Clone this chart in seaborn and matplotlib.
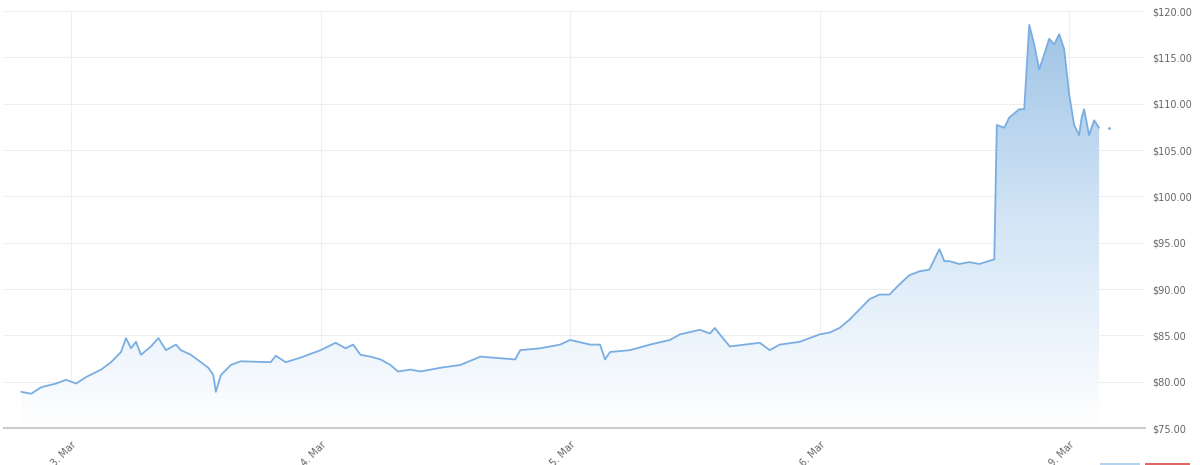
import numpy as np
import seaborn as sns
import matplotlib.pyplot as plt
from matplotlib.patches import Polygon, Rectangle

# trading-day index (0 = 3 Mar, weekend skipped) and price
t = [-0.20, -0.16, -0.12, -0.06, -0.02, 0.02, 0.06, 0.12, 0.16, 0.20, 0.22, 0.24, 0.26, 0.28,
     0.32, 0.35, 0.38, 0.42, 0.44, 0.48, 0.52, 0.55, 0.57, 0.58, 0.60, 0.64, 0.68, 0.80, 0.82,
     0.86, 0.92, 1.00, 1.06, 1.10, 1.13, 1.16, 1.20, 1.24, 1.28, 1.31, 1.36, 1.40, 1.48, 1.56,
     1.64, 1.78, 1.80, 1.88, 1.96, 2.00, 2.08, 2.12, 2.14, 2.16, 2.24, 2.32, 2.40, 2.44, 2.52,
     2.56, 2.58, 2.60, 2.64, 2.76, 2.80, 2.84, 2.92, 3.00, 3.04, 3.08, 3.12, 3.16, 3.20, 3.24,
     3.28, 3.32, 3.36, 3.40, 3.44, 3.48, 3.50, 3.52, 3.56, 3.60, 3.64, 3.70, 3.71, 3.74, 3.76,
     3.80, 3.82, 3.84, 3.86, 3.88, 3.90, 3.92, 3.94, 3.96, 3.98, 4.00, 4.02, 4.04, 4.05, 4.06,
     4.08, 4.10, 4.12]
price = [78.9, 78.7, 79.4, 79.8, 80.2, 79.8, 80.5, 81.3, 82.1, 83.2, 84.7, 83.6, 84.3, 82.9,
         83.8, 84.7, 83.4, 84.0, 83.4, 82.9, 82.1, 81.5, 80.7, 78.9, 80.7, 81.8, 82.2, 82.1, 82.8,
         82.1, 82.6, 83.4, 84.2, 83.6, 84.0, 82.9, 82.7, 82.4, 81.8, 81.1, 81.3, 81.1, 81.5, 81.8,
         82.7, 82.4, 83.4, 83.6, 84.0, 84.5, 84.0, 84.0, 82.4, 83.2, 83.4, 84.0, 84.5, 85.1, 85.6,
         85.2, 85.8, 85.1, 83.8, 84.2, 83.4, 84.0, 84.3, 85.1, 85.3, 85.8, 86.7, 87.8, 88.9, 89.4,
         89.4, 90.5, 91.5, 91.9, 92.1, 94.3, 93.0, 93.0, 92.7, 92.9, 92.7, 93.2, 107.7, 107.4, 108.5,
         109.4, 109.4, 118.5, 116.4, 113.7, 115.3, 117.0, 116.4, 117.5, 115.9, 111.0, 107.7, 106.6,
         108.5, 109.4, 106.6, 108.2, 107.4]
tick_pos = [0, 1, 2, 3, 4]
tick_labels = ["3. Mar", "4. Mar", "5. Mar", "6. Mar", "9. Mar"]
y_ticks = [75, 80, 85, 90, 95, 100, 105, 110, 115, 120]

sns.set_style("white")
fig = plt.figure(figsize=(12, 4.65), dpi=100)
ax = fig.add_axes([4 / 1200, 1 - 428 / 465, 1141 / 1200, 417 / 465])

xmin, xmax = -0.269, 4.304
ax.set_xlim(xmin, xmax)
ax.set_ylim(75, 120)

# gradient fill under the line
grad = np.linspace(0, 1, 256).reshape(-1, 1)
cmap = sns.blend_palette(["#ffffff", "#d3e5f6", "#9cc2e4"], as_cmap=True)
img = ax.imshow(grad, extent=[xmin, xmax, 75, 120], origin="lower", aspect="auto",
                cmap=cmap, zorder=1)
poly = Polygon(list(zip([t[0]] + t + [t[-1]], [75] + price + [75])), closed=True,
               facecolor="none", edgecolor="none")
ax.add_patch(poly)
img.set_clip_path(poly)

sns.lineplot(x=t, y=price, ax=ax, color="#7aaee2", linewidth=1.3, zorder=3, sort=False)
ax.plot([4.16], [107.4], marker=".", color="#7aaee2", markersize=2)

ax.set_yticks(y_ticks)
ax.set_yticklabels([f"${v:.2f}" for v in y_ticks])
ax.yaxis.tick_right()
ax.set_xticks(tick_pos)
ax.set_xticklabels(tick_labels, rotation=45, ha="right", rotation_mode="anchor")
ax.tick_params(axis="y", length=0, labelsize=7, colors="#666666", pad=5)
ax.tick_params(axis="x", length=6, color="#cccccc", labelsize=7, colors="#666666", pad=2)
ax.grid(True, color="#eeeeee", linewidth=0.8)
for s in ["top", "left", "right"]:
    ax.spines[s].set_visible(False)
ax.spines["bottom"].set_color("#cccccc")
ax.spines["bottom"].set_linewidth(1.5)
ax.set_xlabel("")
ax.set_ylabel("")

fig.patches.append(Rectangle((1100 / 1200, 0), 40 / 1200, 2 / 465, transform=fig.transFigure,
                             facecolor="#b5d3ee", edgecolor="none"))
fig.patches.append(Rectangle((1145 / 1200, 0), 45 / 1200, 2 / 465, transform=fig.transFigure,
                             facecolor="#e06666", edgecolor="none"))

plt.savefig("out.png")
